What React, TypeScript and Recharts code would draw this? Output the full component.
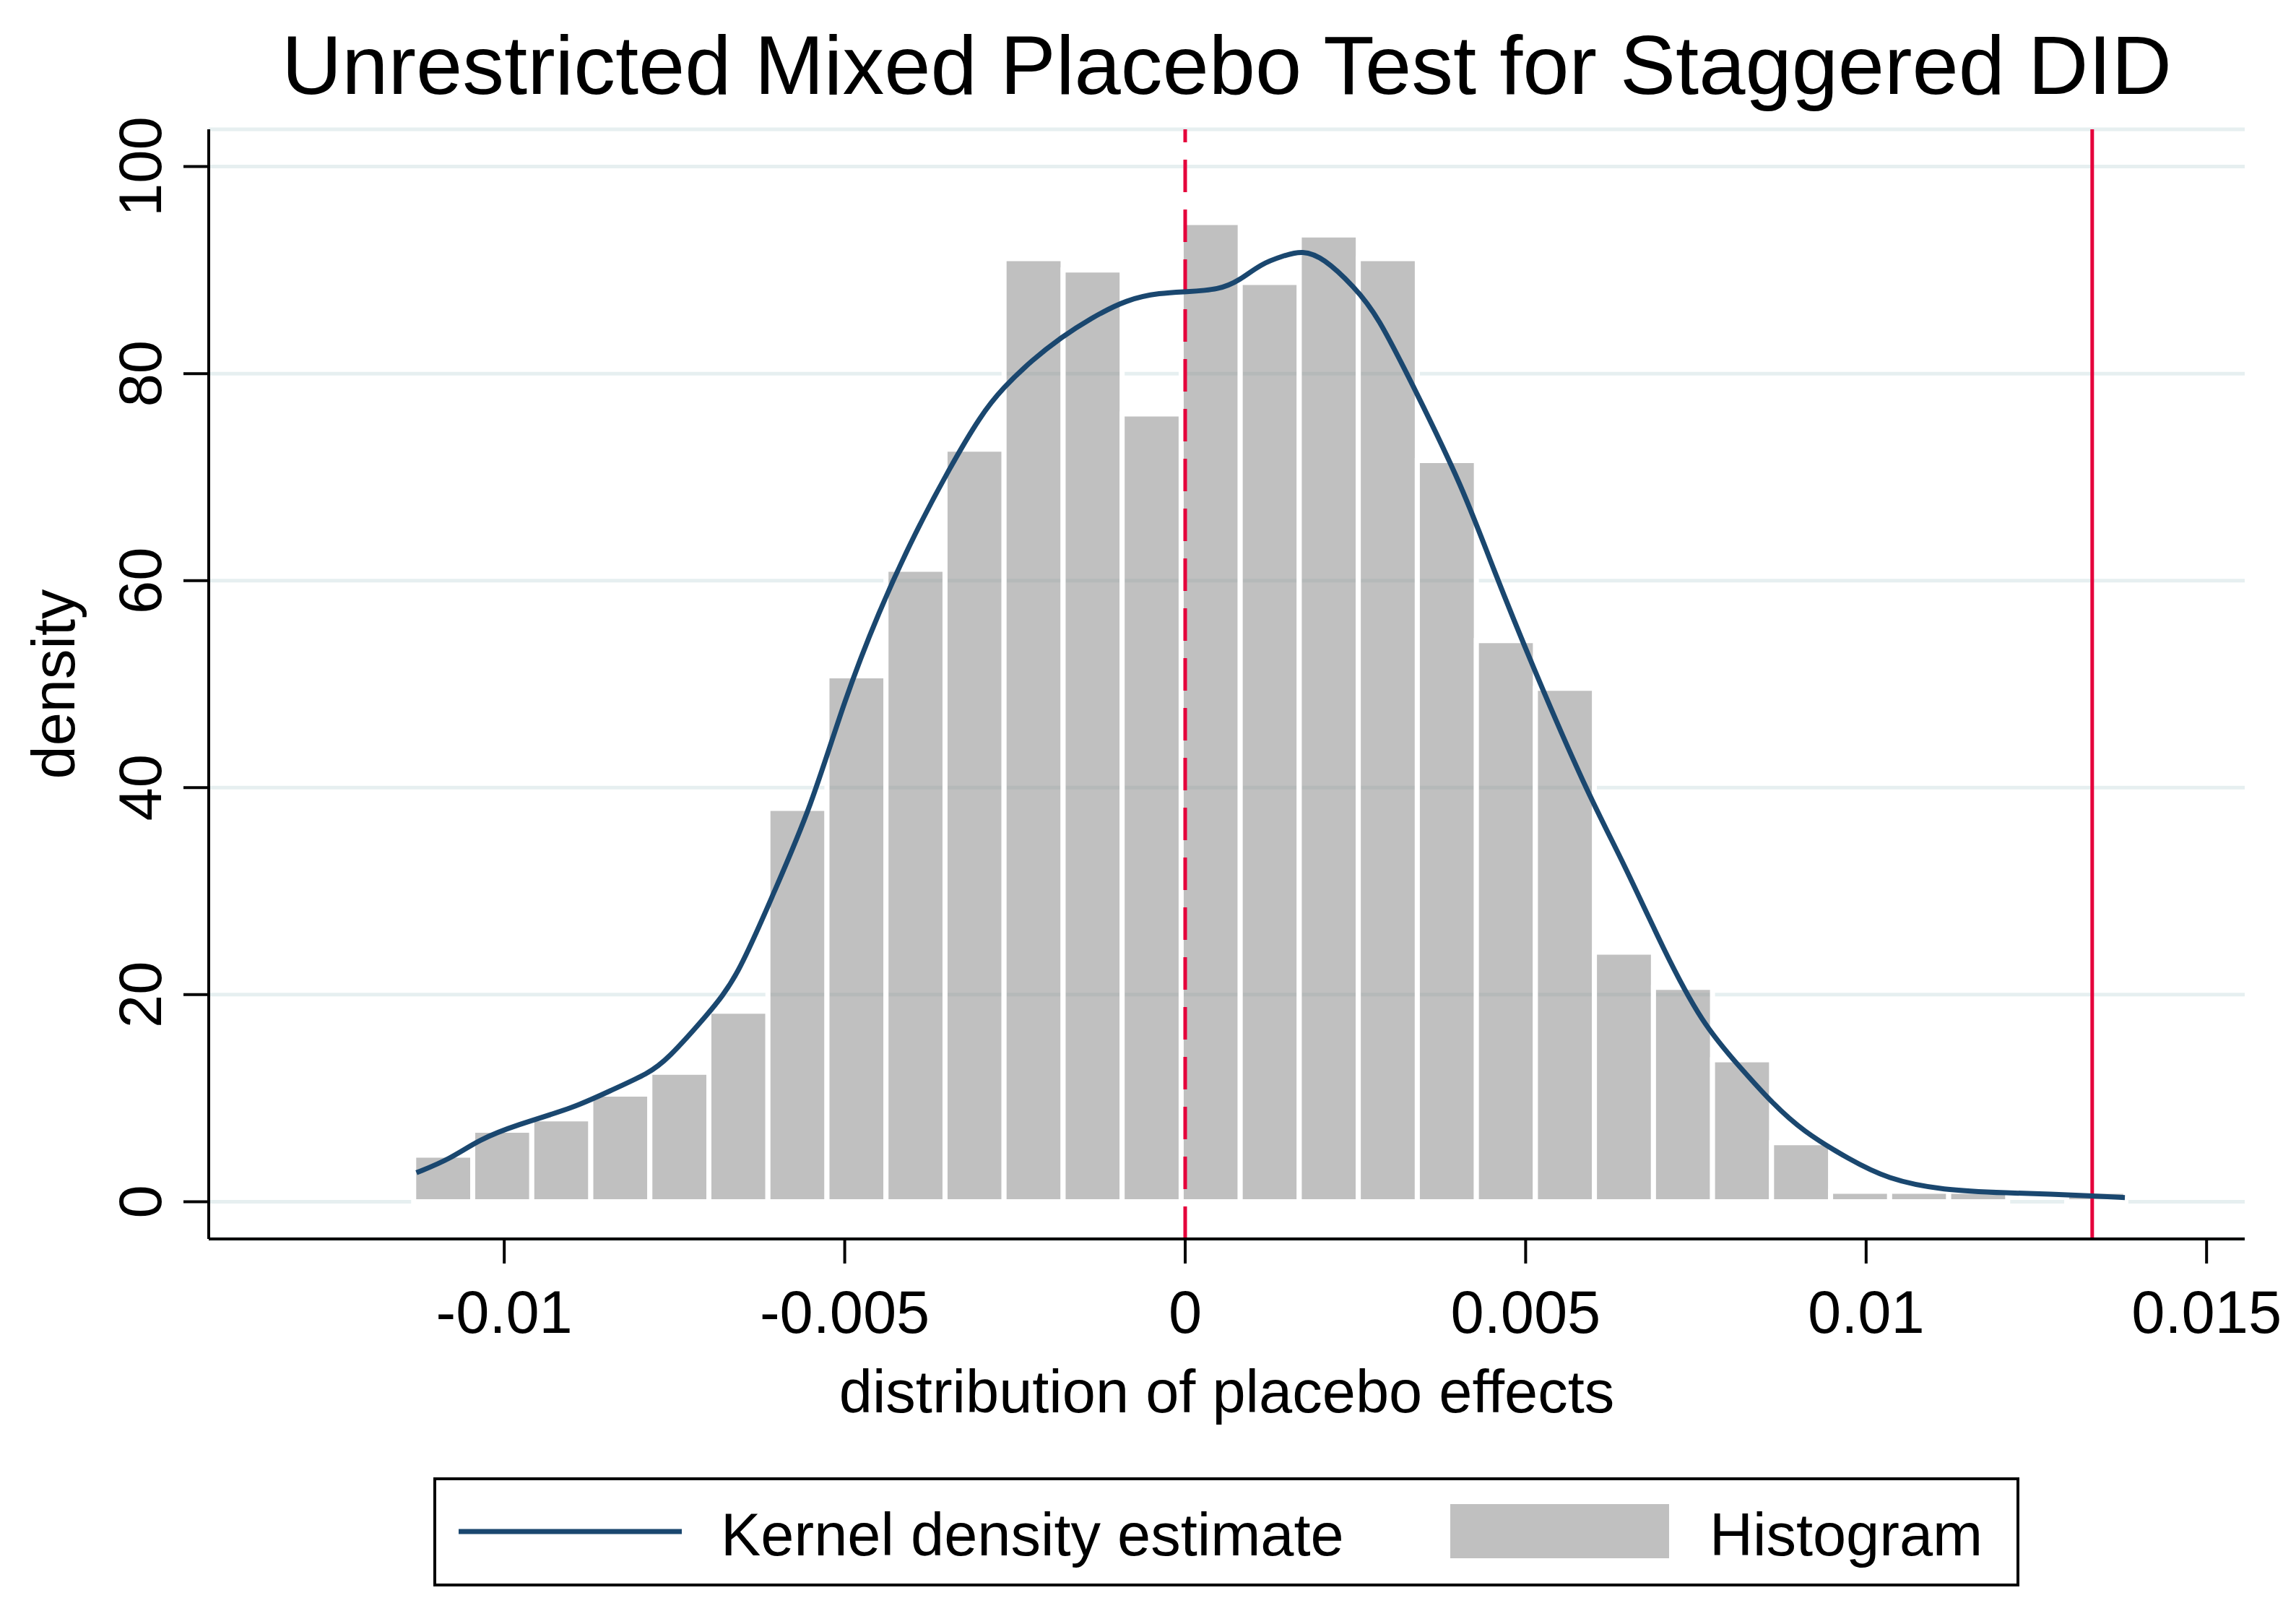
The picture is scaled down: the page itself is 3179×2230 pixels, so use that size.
import React from 'react';
import {
  ComposedChart,
  Line,
  XAxis,
  YAxis,
  CartesianGrid,
  ReferenceLine,
  ReferenceArea,
  Legend,
} from 'recharts';

// ---------- data ----------
const titleText = 'Unrestricted Mixed Placebo Test for Staggered DID';
const xTitle = 'distribution of placebo effects';
const yTitle = 'density';
const seriesNames = ['Kernel density estimate', 'Histogram'];

const xTicks = [-0.01, -0.005, 0, 0.005, 0.01, 0.015];
const yTicks = [0, 20, 40, 60, 80, 100];

// histogram: first bin edge, bin width, and bin heights (density)
const binStart = -0.01133;
const binWidth = 0.000867;
const histHeights = [
  4.5, 6.9, 8.0, 10.4, 12.5, 18.4, 38.0, 50.8, 61.1, 72.7,
  91.1, 90.0, 76.1, 94.6, 88.8, 93.4, 91.1, 71.6, 54.2, 49.6,
  24.1, 20.7, 13.7, 5.7, 1.0, 1.0, 1.0, 0, 1.0,
];

// kernel density estimate
const kdeX = [
  -0.01129, -0.0108, -0.01037, -0.00983, -0.00896, -0.00842, -0.00788, -0.00761,
  -0.00701, -0.00658, -0.00604, -0.0055, -0.005, -0.0045, -0.004,
  -0.00345, -0.003, -0.00268, -0.00225, -0.00182, -0.0014, -0.00085, -0.00036,
  0, 0.0005, 0.0008, 0.00111, 0.00145, 0.00172, 0.00203, 0.00248, 0.00282,
  0.00338, 0.00407, 0.00452, 0.00509, 0.00589, 0.00645, 0.00702, 0.00759,
  0.00816, 0.00861, 0.00907, 0.00975, 0.01031, 0.01111, 0.01213, 0.0127,
  0.01327, 0.0138,
];
const kdeY = [
  2.8, 4.1, 6.0, 7.4, 9.1, 10.8, 12.4, 13.7,
  18.1, 21.6, 29.9, 38.0, 48.6, 57.0, 64.2,
  71.0, 76.0, 78.6, 81.3, 83.5, 85.3, 87.2, 87.8,
  87.9, 88.1, 89.0, 90.6, 91.4, 91.9, 91.2, 88.4, 85.7,
  78.4, 69.1, 61.2, 51.9, 39.7, 32.6, 24.4, 17.2,
  12.9, 9.6, 6.8, 4.1, 2.2, 1.1, 0.84, 0.73,
  0.56, 0.4,
];

// reference lines
const placeboZero = 0;
const actualEffect = 0.01332;

// ---------- styling ----------
const W = 3179;
const H = 2230;
const FONT = '"Liberation Sans", Arial, Helvetica, sans-serif';
const kdeColor = '#1a476f';
const redColor = '#e5003b';
const barFill = '#8a8a8a';
const barOpacity = 0.54;
const gridColor = '#e6eff0';

const kdeData = kdeX.map((x, i) => ({ x, y: kdeY[i] }));

const XTick = (props: any) => {
  const { x, y, payload } = props;
  return (
    <text x={x} y={y + 96} textAnchor="middle" fontSize={83} fontFamily={FONT} fill="#000">
      {String(payload.value)}
    </text>
  );
};

const YTick = (props: any) => {
  const { x, y, payload } = props;
  return (
    <text
      x={x}
      y={y}
      transform={`rotate(-90 ${x} ${y})`}
      textAnchor="middle"
      fontSize={83}
      fontFamily={FONT}
      fill="#000"
    >
      {String(payload.value)}
    </text>
  );
};

const renderXLabel = (props: any) => {
  const vb = props.viewBox || {};
  return (
    <text
      x={vb.x + vb.width / 2}
      y={vb.y + 240}
      textAnchor="middle"
      fontSize={83}
      fontFamily={FONT}
      fill="#000"
    >
      {xTitle}
    </text>
  );
};

const renderYLabel = (props: any) => {
  const vb = props.viewBox || {};
  const cx = vb.x + 103;
  const cy = vb.y + vb.height / 2;
  return (
    <text
      x={cx}
      y={cy}
      transform={`rotate(-90 ${cx} ${cy})`}
      textAnchor="middle"
      fontSize={83}
      fontFamily={FONT}
      fill="#000"
    >
      {yTitle}
    </text>
  );
};

const renderLegend = () => (
  <svg width={2196} height={151} style={{ display: 'block' }}>
    <rect x={2} y={2} width={2192} height={147} fill="#fff" stroke="#000" strokeWidth={4} />
    <line x1={35} x2={344} y1={75} y2={75} stroke={kdeColor} strokeWidth={7} />
    <text x={398} y={108} fontSize={83} fontFamily={FONT} fill="#000">
      {seriesNames[0]}
    </text>
    <rect x={1408} y={37} width={303} height={75} fill={barFill} fillOpacity={barOpacity} />
    <text x={1767} y={108} fontSize={83} fontFamily={FONT} fill="#000">
      {seriesNames[1]}
    </text>
  </svg>
);

export default function App() {
  return (
    <div
      style={{
        position: 'absolute',
        left: 0,
        top: 0,
        width: W,
        height: H,
        background: '#fff',
        fontFamily: FONT,
        overflow: 'hidden',
      }}
    >
      <div
        style={{
          position: 'absolute',
          left: 289,
          width: 3108 - 289,
          top: 32,
          textAlign: 'center',
          fontSize: 115.5,
          lineHeight: '115px',
          fontFamily: FONT,
          color: '#000',
          whiteSpace: 'nowrap',
          zIndex: 2,
        }}
      >
        {titleText}
      </div>
      <ComposedChart
        width={W}
        height={H}
        data={kdeData}
        margin={{ top: 179, right: 71, bottom: 215, left: 0 }}
      >
        <CartesianGrid horizontal vertical={false} stroke={gridColor} strokeWidth={5} />
        <ReferenceLine
          x={placeboZero}
          stroke={redColor}
          strokeWidth={5}
          strokeDasharray="45 24"
          ifOverflow="extendDomain"
        />
        <ReferenceLine x={actualEffect} stroke={redColor} strokeWidth={5} />
        {histHeights.map((h, i) => (
          <ReferenceArea
            key={`bin-${i}`}
            x1={binStart + i * binWidth}
            x2={binStart + (i + 1) * binWidth}
            y1={0}
            y2={h}
            fill={barFill}
            fillOpacity={barOpacity}
            stroke="#ffffff"
            strokeWidth={7}
            strokeOpacity={1}
          />
        ))}
        <Line
          type="basis"
          dataKey="y"
          stroke={kdeColor}
          strokeWidth={7}
          dot={false}
          activeDot={false}
          isAnimationActive={false}
        />
        <XAxis
          dataKey="x"
          type="number"
          domain={[-0.01434, 0.01556]}
          ticks={xTicks}
          allowDataOverflow
          height={300}
          tickSize={34}
          tickMargin={0}
          axisLine={{ stroke: '#000', strokeWidth: 4 }}
          tickLine={{ stroke: '#000', strokeWidth: 4 }}
          tick={<XTick />}
          label={renderXLabel}
        />
        <YAxis
          type="number"
          domain={[-3.6, 103.6]}
          ticks={yTicks}
          allowDataOverflow
          width={289}
          tickSize={35}
          tickMargin={31}
          axisLine={{ stroke: '#000', strokeWidth: 4 }}
          tickLine={{ stroke: '#000', strokeWidth: 4 }}
          tick={<YTick />}
          label={renderYLabel}
        />
        <Legend
          layout="horizontal"
          verticalAlign="middle"
          align="center"
          content={renderLegend}
          wrapperStyle={{ left: 600, top: 2045, width: 2196, height: 151 }}
        />
      </ComposedChart>
    </div>
  );
}
